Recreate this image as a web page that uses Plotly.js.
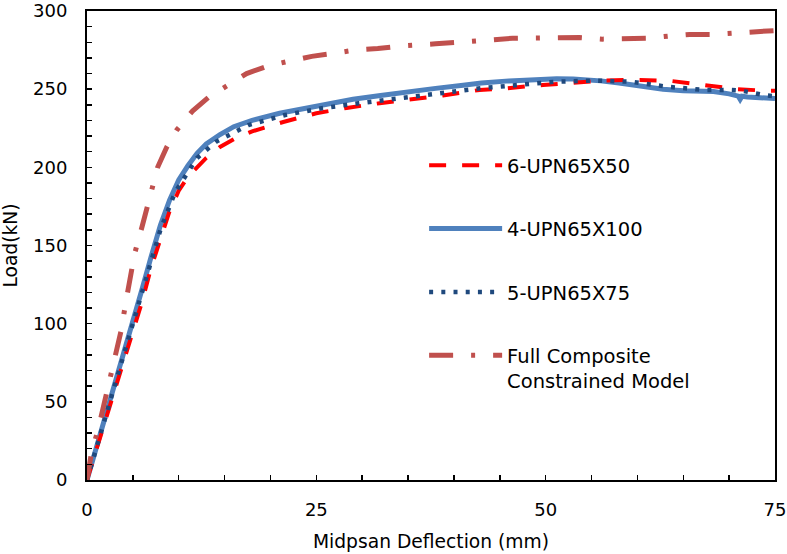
<!DOCTYPE html>
<html>
<head>
<meta charset="utf-8">
<script src="https://cdn.plot.ly/plotly-3.0.1.min.js"></script>
<style>html,body{margin:0;padding:0;background:#fff;}#chart{width:787px;height:554px;}</style>
</head>
<body>
<div id="chart"></div>
<script>
// 4-UPN65X100 (solid blue)
const xUPN100 = [0,1,2,3,4,5,6,7,8,9,10,11,12,13,14.5,16,18,21,24,26.5,29,32,35,38,41,43,46,49,51.2,53,54.5,56,58,60,62.8,65,68.3,70,71,71.2,71.4,72,73.7,75];
const yUPN100 = [0,20,40,60,80,100,122,143,163,179,192,201,209,215,221,226,230,234.6,238,241,243.5,246,248.5,250.5,252.5,254,255.3,256.3,256.6,256.5,256,255.3,254,252.3,250,249,248.5,247,245.5,243.5,245.5,245,244.5,244];
// 6-UPN65X50 (red dashed)
const xUPN50 = [0,1,2,3,4,5,6,7,8,9,10,11,12,13,14.5,16,18,21.4,25,28.3,31.9,35.6,38.8,42.8,45.8,49.7,53.4,56.5,59.9,63.6,67.2,70.8,74.1,75];
const yUPN50 = [0,19,38,57,76,95,114,136,155,172,185,194,200,206,213,218,223,229,234.6,238,241,243.6,246,249.5,250.6,252.7,254,255.5,256,255.3,252.7,250,249,249];
// 5-UPN65X75 (navy dotted)
const xUPN75 = [0,1,2,3,4,5,6,7,8,9.6,12,14.1,17.6,21.6,25.6,29.6,33.6,37.6,43,47,51.1,55.2,59.2,63.2,67.3,70,71.4,74,75];
const yUPN75 = [0,20,39,59,79,98,118,138,160,184,206,216.5,227,233.5,237.8,241,244,247,250.6,252.7,254.8,255.5,254.8,251.6,249.5,249.5,249,246,245.5];
// Full Composite Constrained Model (dash-dot)
const xFull = [0,0.5,1.2,2,2.8,3.7,4.3,5.2,6,6.7,7.7,8.7,9.8,11.5,13.3,15.2,17.4,19.8,22,24.5,27,29.2,31.7,35,38,41,44,46.4,49,51.2,53.7,56.2,58.5,61,63.5,65.7,68.3,70.8,73.1,75];
const yFull = [0,18,32,53,74,95,116,145,162,179,200,213,224,236,245,252,260,265,268,271,273,275,276,278,279,280,281.5,282.6,283,283,283,282,282,282.5,284,285,285,286,287,287.5];

const names = ["6-UPN65X50","4-UPN65X100","5-UPN65X75","Full Composite<br>Constrained Model"];
const xTickVals = [0,25,50,75];
const yTickVals = [0,50,100,150,200,250,300];

const traces = [
  {x:xUPN100, y:yUPN100, name:names[1], mode:'lines', line:{color:'#4F81BD', width:5}, legendgroup:'b', legendrank:2},
  {x:xUPN50, y:yUPN50, name:names[0], mode:'lines', line:{color:'#FF0000', width:4, dash:'17px,16px'}, legendgroup:'a', legendrank:1},
  {x:xUPN75, y:yUPN75, name:names[2], mode:'lines', line:{color:'#1F497D', width:4.5, dash:'4px,8.2px'}, legendgroup:'c', legendrank:3},
  {x:xFull, y:yFull, name:names[3], mode:'lines', line:{color:'#C0504D', width:5, dash:'24px,18px,4px,18px'}, legendgroup:'d', legendrank:4}
];

const fam = '"DejaVu Sans", sans-serif';
const font = {family:fam, size:18, color:'#000'};
const titleFont = {family:fam, size:18.7, color:'#000'};
const layout = {
  width:787, height:554,
  margin:{l:87, r:12, t:11, b:74},
  paper_bgcolor:'#fff', plot_bgcolor:'#fff',
  font:font,
  showlegend:true,
  legend:{x:0.49, y:0.712, xanchor:'left', yanchor:'top', bgcolor:'rgba(0,0,0,0)', font:{family:fam, size:19.5, color:'#000'}, tracegroupgap:35, valign:'top', itemwidth:73},
  xaxis:{range:[0,75], tickvals:xTickVals, ticks:'inside', ticklen:5, tickwidth:1.5, tickcolor:'#000',
    minor:{dtick:5, ticks:'inside', ticklen:5, tickwidth:1.5, tickcolor:'#000', showgrid:false},
    showline:true, linecolor:'#000', linewidth:2, mirror:true, showgrid:false, zeroline:false,
    ticklabelstandoff:12,
    title:{text:'Midpsan Deflection (mm)', font:titleFont, standoff:16}},
  yaxis:{range:[0,300], tickvals:yTickVals, ticks:'inside', ticklen:5, tickwidth:1.5, tickcolor:'#000',
    minor:{dtick:10, ticks:'inside', ticklen:5, tickwidth:1.5, tickcolor:'#000', showgrid:false},
    showline:true, linecolor:'#000', linewidth:2, mirror:true, showgrid:false, zeroline:false,
    ticklabelstandoff:14,
    title:{text:'Load(kN)', font:titleFont, standoff:12}}
};
Plotly.newPlot('chart', traces, layout, {displayModeBar:false, staticPlot:true});
</script>
</body>
</html>
